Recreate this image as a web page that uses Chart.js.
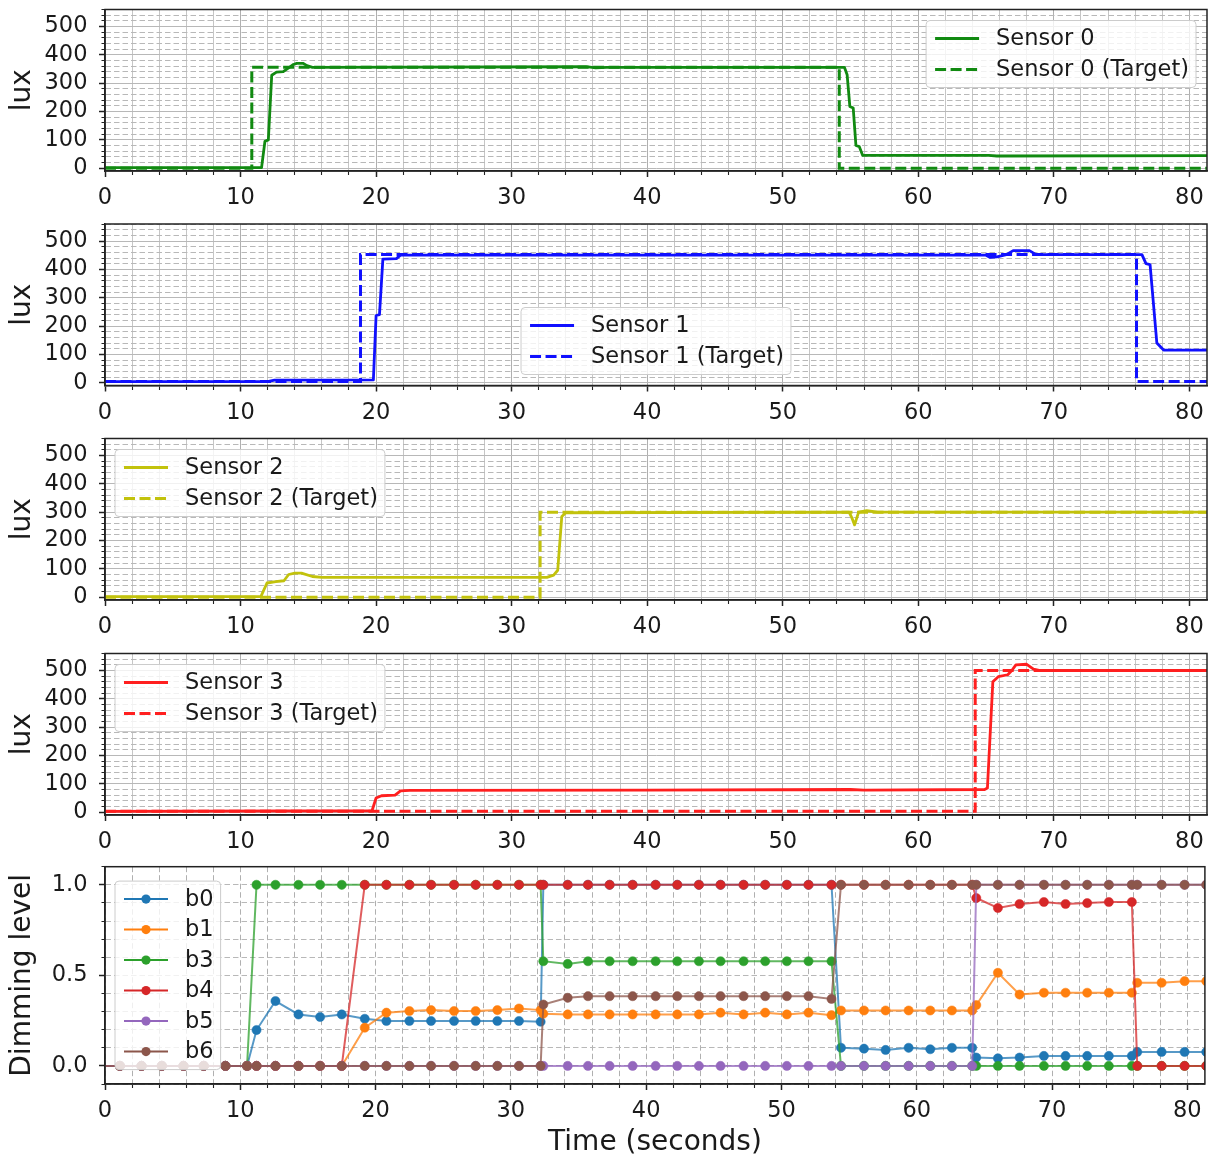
<!DOCTYPE html>
<html>
<head>
<meta charset="utf-8">
<title>Sensor lux and dimming levels</title>
<script src="https://cdn.jsdelivr.net/npm/chart.js@4.4.1/dist/chart.umd.min.js"></script>
<style>
  html, body { margin: 0; padding: 0; background: #fff; }
  #page { position: relative; width: 1210px; height: 1159px; overflow: hidden; }
  #page canvas { position: absolute; left: 0; }
</style>
</head>
<body>
<div id="page">
  <canvas id="p0"></canvas>
  <canvas id="p1"></canvas>
  <canvas id="p2"></canvas>
  <canvas id="p3"></canvas>
  <canvas id="p4"></canvas>
</div>
<script>
// ---- data ----
const X_MAX = 81.3;

// sensor 0
const s0Time = [0, 11.55, 11.8, 12.05, 12.3, 12.65, 13.15, 13.6, 13.9, 14.15, 14.6, 14.9, 15.3, 35.5, 36.2, 37.0, 54.55, 54.75, 54.95, 55.2, 55.4, 55.65, 55.9, 65.2, 65.8, 81.3];
const s0Lux  = [2, 2, 95, 100, 328, 339, 341, 356, 366, 370, 370, 362, 356, 358, 354, 356, 356, 330, 218, 212, 80, 76, 45, 45, 43, 44];
const s0TargetTime = [0, 10.83, 54.17, 81.3];
const s0TargetLux  = [0, 356, 0, 0];

// sensor 1
const s1Time = [0, 12.0, 12.5, 19.8, 20.0, 20.25, 20.5, 21.5, 21.8, 65.0, 65.3, 65.8, 66.5, 67.0, 68.2, 68.7, 76.5, 76.8, 77.1, 77.6, 78.1, 81.3];
const s1Lux  = [4, 4, 9, 10, 237, 240, 436, 438, 450, 450, 442, 444, 452, 466, 466, 452, 452, 420, 417, 140, 115, 115];
const s1TargetTime = [0, 18.85, 76.1, 81.3];
const s1TargetLux  = [4, 452, 4, 4];

// sensor 2
const s2Time = [0, 11.5, 11.95, 12.6, 13.2, 13.55, 14.0, 14.5, 15.3, 16.0, 32.6, 33.1, 33.4, 33.7, 34.0, 54.9, 55.1, 55.3, 55.6, 56.2, 57.0, 81.3];
const s2Lux  = [2, 2, 50, 55, 58, 80, 85, 85, 73, 70, 70, 78, 95, 285, 298, 300, 280, 255, 300, 305, 300, 300];
const s2TargetTime = [0, 32.1, 81.3];
const s2TargetLux  = [0, 300, 300];

// sensor 3
const s3Time = [0, 19.7, 20.0, 20.4, 21.4, 21.8, 22.5, 40.0, 55.0, 56.0, 64.9, 65.1, 65.5, 65.9, 66.6, 66.9, 67.2, 68.0, 68.5, 69.0, 81.3];
const s3Lux  = [3, 5, 50, 58, 60, 75, 77, 78, 80, 78, 80, 85, 460, 478, 485, 500, 520, 522, 505, 500, 500];
const s3TargetTime = [0, 64.2, 81.3];
const s3TargetLux  = [3, 500, 500];

// dimming levels
const dimTime = [-0.5, 1.1, 2.7, 4.2, 5.8, 7.3, 8.9, 10.5, 11.2, 12.6, 14.3, 15.9, 17.5, 19.2, 20.8, 22.5, 24.1, 25.8, 27.4, 29.0, 30.6, 32.2, 32.4, 34.2, 35.7, 37.3, 39.0, 40.7, 42.3, 43.9, 45.5, 47.2, 48.8, 50.4, 52.0, 53.7, 54.4, 56.1, 57.7, 59.4, 61.0, 62.6, 64.1, 64.4, 66.0, 67.6, 69.4, 71.0, 72.6, 74.2, 75.9, 76.3, 78.1, 79.8, 81.4];
const b0 = [0, 0, 0, 0, 0, 0, 0, 0, 0.198, 0.358, 0.284, 0.27, 0.284, 0.26, 0.248, 0.248, 0.248, 0.248, 0.248, 0.248, 0.248, 0.244, 1, 1, 1, 1, 1, 1, 1, 1, 1, 1, 1, 1, 1, 1, 0.1, 0.095, 0.088, 0.1, 0.092, 0.1, 0.1, 0.046, 0.042, 0.046, 0.055, 0.055, 0.055, 0.055, 0.055, 0.077, 0.077, 0.077, 0.077];
const b1 = [0, 0, 0, 0, 0, 0, 0, 0, 0, 0, 0, 0, 0, 0.211, 0.294, 0.303, 0.308, 0.303, 0.303, 0.308, 0.317, 0.308, 0.288, 0.284, 0.284, 0.284, 0.284, 0.284, 0.284, 0.284, 0.294, 0.284, 0.294, 0.284, 0.294, 0.28, 0.306, 0.306, 0.306, 0.306, 0.306, 0.306, 0.306, 0.336, 0.514, 0.394, 0.404, 0.404, 0.404, 0.404, 0.404, 0.459, 0.459, 0.468, 0.468];
const b3 = [0, 0, 0, 0, 0, 0, 0, 0, 1, 1, 1, 1, 1, 1, 1, 1, 1, 1, 1, 1, 1, 1, 0.578, 0.563, 0.578, 0.578, 0.578, 0.578, 0.578, 0.578, 0.578, 0.578, 0.578, 0.578, 0.578, 0.578, 0, 0, 0, 0, 0, 0, 0, 0, 0, 0, 0, 0, 0, 0, 0, 0, 0, 0, 0];
const b4 = [0, 0, 0, 0, 0, 0, 0, 0, 0, 0, 0, 0, 0, 1, 1, 1, 1, 1, 1, 1, 1, 1, 1, 1, 1, 1, 1, 1, 1, 1, 1, 1, 1, 1, 1, 1, 1, 1, 1, 1, 1, 1, 1, 0.927, 0.872, 0.894, 0.905, 0.894, 0.899, 0.905, 0.905, 0, 0, 0, 0];
const b5 = [0, 0, 0, 0, 0, 0, 0, 0, 0, 0, 0, 0, 0, 0, 0, 0, 0, 0, 0, 0, 0, 0, 0, 0, 0, 0, 0, 0, 0, 0, 0, 0, 0, 0, 0, 0, 0, 0, 0, 0, 0, 0, 0, 1, 1, 1, 1, 1, 1, 1, 1, 1, 1, 1, 1];
const b6 = [0, 0, 0, 0, 0, 0, 0, 0, 0, 0, 0, 0, 0, 0, 0, 0, 0, 0, 0, 0, 0, 0, 0.339, 0.376, 0.385, 0.385, 0.385, 0.385, 0.385, 0.385, 0.385, 0.385, 0.385, 0.385, 0.385, 0.37, 1, 1, 1, 1, 1, 1, 1, 1, 1, 1, 1, 1, 1, 1, 1, 1, 1, 1, 1];

const dimNames  = ['b0', 'b1', 'b3', 'b4', 'b5', 'b6'];
const dimSeries = [b0, b1, b3, b4, b5, b6];
const dimColors = ['#1f77b4', '#ff7f0e', '#2ca02c', '#d62728', '#9467bd', '#8c564b'];

// ---- helpers ----
const FONT = '"DejaVu Sans", sans-serif';
const INK = '#1a1a1a';
const TICK_FONT = { family: FONT, size: 22.5 };
const TITLE_FONT = { family: FONT, size: 28 };
const LEGEND_PX = 22.5;

const pts = (xs, ys) => xs.map((x, i) => ({ x, y: ys[i] }));
const isMult = (v, m) => Math.abs(v / m - Math.round(v / m)) < 1e-6;
const major = (c, step) => !!c.tick && isMult(c.tick.value, step);

// frame on all four sides
const frame = {
  id: 'frame',
  afterDatasetsDraw(chart) {
    const { ctx, chartArea: a } = chart;
    ctx.save();
    ctx.strokeStyle = '#222';
    ctx.lineWidth = 1.5;
    ctx.strokeRect(a.left, a.top, a.right - a.left, a.bottom - a.top);
    ctx.restore();
  }
};

// matplotlib style boxed legend
const boxLegend = {
  id: 'boxLegend',
  afterDraw(chart, args, opts) {
    const { ctx, chartArea: a } = chart;
    const sets = chart.data.datasets;
    ctx.save();
    ctx.font = LEGEND_PX + 'px ' + FONT;
    const tw = Math.max(...sets.map(d => ctx.measureText(d.label).width));
    const w = 70 + tw + 7;
    const step = opts.step;
    const h = 36 + (sets.length - 1) * step;
    let x = a.left + 10, y = a.top + 11;
    if (opts.anchor === 'tr') x = a.right - 11 - w;
    if (opts.anchor === 'bc') { x = (a.left + a.right) / 2 - w / 2; y = a.bottom - 11 - h; }
    if (opts.anchor === 'cl') y = (a.top + a.bottom) / 2 - h / 2;

    ctx.beginPath();
    ctx.roundRect(x, y, w, h, 4);
    ctx.fillStyle = 'rgba(255,255,255,0.8)';
    ctx.fill();
    ctx.strokeStyle = '#cccccc';
    ctx.lineWidth = 1;
    ctx.stroke();

    sets.forEach((d, i) => {
      const cy = y + 18 + i * step;
      ctx.beginPath();
      ctx.setLineDash(d.borderDash || []);
      ctx.strokeStyle = d.legendColor || d.borderColor;
      ctx.lineWidth = d.borderWidth;
      ctx.moveTo(x + 9, cy);
      ctx.lineTo(x + 53, cy);
      ctx.stroke();
      ctx.setLineDash([]);
      if (d.pointRadius) {
        ctx.beginPath();
        ctx.arc(x + 31, cy, d.pointRadius, 0, Math.PI * 2);
        ctx.fillStyle = d.pointBackgroundColor;
        ctx.fill();
      }
      ctx.fillStyle = INK;
      ctx.textBaseline = 'middle';
      ctx.textAlign = 'left';
      ctx.fillText(d.label, x + 70, cy + 1);
    });
    ctx.restore();
  }
};

function xAxis(axisH, dashedAll, title) {
  return {
    type: 'linear', min: 0, max: X_MAX,
    ticks: {
      stepSize: 2, autoSkip: false, includeBounds: false, maxRotation: 0,
      padding: 8, font: TICK_FONT, color: INK,
      callback: v => isMult(v, 10) ? String(Math.round(v)) : ''
    },
    grid: {
      color: c => (dashedAll || major(c, 10)) ? '#b0b0b0' : '#c6c6c6',
      lineWidth: 1, tickLength: 6, tickColor: '#222',
      tickWidth: c => major(c, 10) ? 1.5 : 1.1,
      tickBorderDash: c => major(c, 10) ? [] : [3.5, 50]
    },
    border: { color: '#222', width: 1.5, dash: c => (dashedAll && c.tick) ? [5.5, 3] : [] },
    title: title
      ? { display: true, text: title, font: TITLE_FONT, color: INK, padding: { top: 0, bottom: 0 } }
      : { display: false },
    afterFit(s) { s.height = axisH; s.paddingLeft = 0; s.paddingRight = 0; }
  };
}

function yAxis(min, max, stepSize, majorStep, fmt, dashedAll, title) {
  return {
    type: 'linear', min, max,
    ticks: {
      stepSize, autoSkip: false, includeBounds: false,
      padding: 11.5, font: TICK_FONT, color: INK,
      callback: v => (isMult(v, majorStep) && v >= 0 && v <= max) ? fmt(v) : ''
    },
    grid: {
      color: '#b8b8b8',
      lineWidth: 1, tickLength: 6, tickColor: '#222',
      tickWidth: c => major(c, majorStep) ? 1.5 : 1.1,
      tickBorderDash: c => major(c, majorStep) ? [] : [0, 2.5, 3.5, 50]
    },
    border: { color: '#222', width: 1.5, dash: c => (c.tick && (dashedAll || !major(c, majorStep))) ? [5.5, 3] : [] },
    title: { display: true, text: title, font: TITLE_FONT, color: INK, padding: { top: 6, bottom: 0 } },
    afterFit(s) { s.width = 105; s.paddingTop = 0; s.paddingBottom = 0; }
  };
}

function place(canvas, plotTop, plotH, axisH) {
  const top = Math.floor(plotTop) - 30;
  const padTop = plotTop - top;
  const h = Math.ceil(padTop + plotH + axisH);
  canvas.width = 1210;
  canvas.height = h;
  canvas.style.top = top + 'px';
  return { padTop, xAxisH: h - padTop - plotH };
}

function sensorPanel(id, plotTop, name, color, time, lux, tTime, tLux, legendPos) {
  const canvas = document.getElementById(id);
  const g = place(canvas, plotTop, 161.5, 45);
  new Chart(canvas, {
    type: 'line',
    data: {
      datasets: [
        { label: name, data: pts(time, lux), borderColor: color, borderWidth: 2.8,
          pointRadius: 0, order: 1, borderJoinStyle: 'round' },
        { label: name + ' (Target)', data: pts(tTime, tLux), borderColor: color, borderWidth: 3,
          borderDash: [11, 4.5], pointRadius: 0, stepped: 'before', order: 0 }
      ]
    },
    options: {
      responsive: false, animation: false, devicePixelRatio: 1, events: [],
      layout: { padding: { top: g.padTop, right: 3, left: 0, bottom: 0 } },
      scales: {
        x: xAxis(g.xAxisH, false, null),
        y: yAxis(-10, 560, 20, 100, v => String(Math.round(v)), false, 'lux')
      },
      plugins: {
        legend: { display: false }, tooltip: { enabled: false },
        boxLegend: { anchor: legendPos, step: 31 }
      }
    },
    plugins: [frame, boxLegend]
  });
}

sensorPanel('p0', 9.5, 'Sensor 0', '#118a11', s0Time, s0Lux, s0TargetTime, s0TargetLux, 'tr');
sensorPanel('p1', 224, 'Sensor 1', '#1010ff', s1Time, s1Lux, s1TargetTime, s1TargetLux, 'bc');
sensorPanel('p2', 438.5, 'Sensor 2', '#c2c20c', s2Time, s2Lux, s2TargetTime, s2TargetLux, 'tl');
sensorPanel('p3', 653.5, 'Sensor 3', '#ff1f1f', s3Time, s3Lux, s3TargetTime, s3TargetLux, 'tl');

// dimming panel
(function () {
  const canvas = document.getElementById('p4');
  const g = place(canvas, 866.7, 217.3, 75);
  const withAlpha = (hex, a) => {
    const n = parseInt(hex.slice(1), 16);
    return `rgba(${n >> 16},${(n >> 8) & 255},${n & 255},${a})`;
  };
  new Chart(canvas, {
    type: 'line',
    data: {
      datasets: dimSeries.map((vals, i) => ({
        label: dimNames[i],
        data: pts(dimTime, vals),
        borderColor: withAlpha(dimColors[i], 0.75),
        legendColor: dimColors[i],
        borderWidth: 2,
        pointRadius: 4.6,
        pointBackgroundColor: dimColors[i],
        pointBorderColor: dimColors[i],
        pointBorderWidth: 0.5,
        order: dimSeries.length - i
      }))
    },
    options: {
      responsive: false, animation: false, devicePixelRatio: 1, events: [],
      layout: { padding: { top: g.padTop, right: 3, left: 0, bottom: 0 } },
      scales: {
        x: xAxis(g.xAxisH, true, 'Time (seconds)'),
        y: yAxis(-0.1, 1.1, 0.1, 0.5, v => v.toFixed(1), true, 'Dimming level')
      },
      plugins: {
        legend: { display: false }, tooltip: { enabled: false },
        boxLegend: { anchor: 'cl', step: 30.5 }
      }
    },
    plugins: [frame, boxLegend]
  });
})();
</script>
</body>
</html>
